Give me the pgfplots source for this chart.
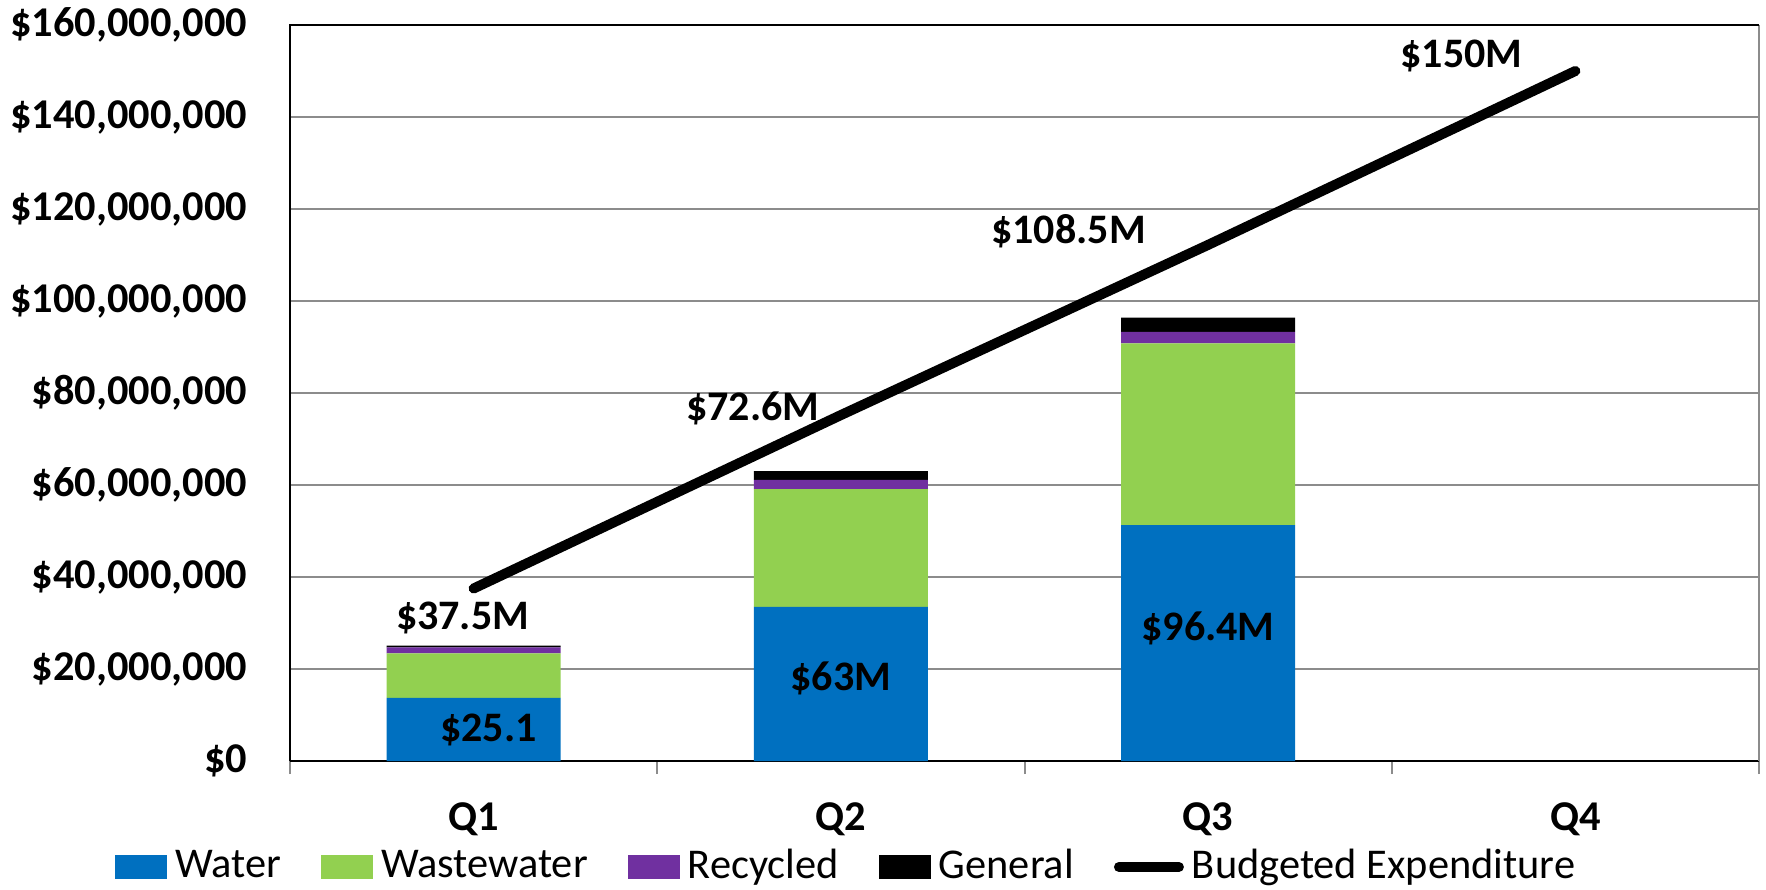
\documentclass[border=0pt]{standalone}
\usepackage{pgfplots}
\pgfplotsset{compat=1.18}
\usepackage{fontspec}
\setmainfont{Carlito}
\definecolor{cWater}{HTML}{0070C0}
\definecolor{cWaste}{HTML}{92D050}
\definecolor{cRec}{HTML}{7030A0}
\definecolor{cGrid}{HTML}{8C8C8C}
\pgfplotsset{
  barleg/.style={legend image code/.code={\fill[##1] (0pt,-3pt) rectangle (13pt,3pt);}},
  lineleg/.style={legend image code/.code={\draw[##1] (0pt,0pt) -- (15pt,0pt);}},
}
\begin{document}
\begin{tikzpicture}
\begin{axis}[
  scale only axis, width=367.25pt, height=184pt,
  xmin=0.5, xmax=4.5, ymin=0, ymax=160,
  ybar stacked, bar width=43.5pt,
  axis line style={draw=none},
  xtick={1,2,3,4}, xticklabels={Q1,Q2,Q3,Q4},
  minor xtick={0.5,1.5,2.5,3.5,4.5},
  tick pos=left,
  ytick={0,20,40,60,80,100,120,140,160},
  yticklabels={\$0,{\$20,000,000},{\$40,000,000},{\$60,000,000},{\$80,000,000},{\$100,000,000},{\$120,000,000},{\$140,000,000},{\$160,000,000}},
  major tick length=0pt,
  minor tick length=3.25pt,
  tick align=outside,
  minor tick style={cGrid, line width=0.5pt},
  ymajorgrids, major grid style={cGrid, line width=0.5pt},
  yticklabel style={font=\fontsize{10.6}{12}\selectfont\bfseries, anchor=east, inner sep=0pt, xshift=-10.5pt},
  xticklabel style={font=\fontsize{10.6}{12}\selectfont\bfseries, anchor=base, inner sep=0pt, yshift=-17.4pt},
  legend columns=5,
  legend style={draw=none, fill=none, at={(0.378,-0.144)}, anchor=center,
    font=\fontsize{10.6}{12}\selectfont, inner sep=0pt,
    nodes={inner sep=0pt},
    /tikz/every odd column/.append style={column sep=2pt},
    /tikz/every even column/.append style={column sep=10pt}},
  clip=false,
]
\addplot[fill=cWater, draw=none, barleg] coordinates {(1,13.7) (2,33.5) (3,51.3)};
\addlegendentry{Water}
\addplot[fill=cWaste, draw=none, barleg] coordinates {(1,9.7) (2,25.6) (3,39.5)};
\addlegendentry{Wastewater}
\addplot[fill=cRec, draw=none, barleg] coordinates {(1,1.3) (2,2.0) (3,2.5)};
\addlegendentry{Recycled}
\addplot[fill=black, draw=none, barleg] coordinates {(1,0.4) (2,1.9) (3,3.1)};
\addlegendentry{General}
\addlegendimage{black, line width=2.5pt, line cap=round, lineleg}
\addlegendentry{Budgeted Expenditure}
\coordinate (sw) at (rel axis cs:0,0);
\coordinate (ne) at (rel axis cs:1,1);
\draw[black, line width=0.7pt] (rel axis cs:0,0) -- (rel axis cs:0,1) -- (rel axis cs:1,1);
\draw[cGrid, line width=0.5pt] (rel axis cs:1,1) -- (rel axis cs:1,0);
\draw[black, line width=0.7pt] (rel axis cs:0,0) -- (rel axis cs:1,0);
\end{axis}
\begin{axis}[
  scale only axis, width=367.25pt, height=184pt,
  xmin=0.5, xmax=4.5, ymin=0, ymax=160,
  hide axis, clip=false,
]
\addplot[black, line width=2.5pt, line cap=round] coordinates {(1,37.5) (2,75.2) (3,112.2) (4,150)};
\begin{scope}[font=\fontsize{10.5}{12}\selectfont\bfseries]
\node at (axis cs:1.04,6.7) {\$25.1};
\node at (axis cs:2.0,18.0) {\$63M};
\node at (axis cs:3.0,28.9) {\$96.4M};
\node at (axis cs:0.97,31.1) {\$37.5M};
\node at (axis cs:1.76,76.7) {\$72.6M};
\node at (axis cs:2.62,115.2) {\$108.5M};
\node at (axis cs:3.69,153.3) {\$150M};
\end{scope}
\end{axis}
\pgfresetboundingbox
\useasboundingbox ([shift={(-72.5pt,-32pt)}]sw) rectangle ([shift={(1.75pt,6.25pt)}]ne);
\end{tikzpicture}
\end{document}
